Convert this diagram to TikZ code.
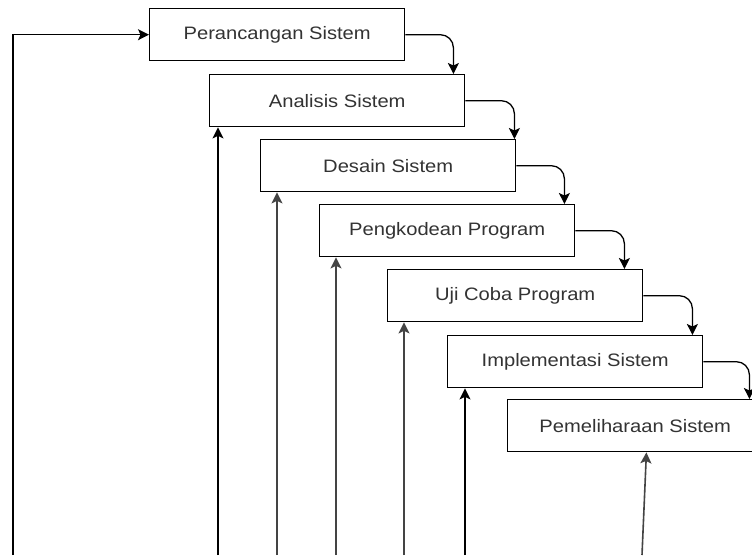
\documentclass[tikz,border=0pt]{standalone}
\usepackage{fontspec}
\setmainfont[FakeStretch=1.12]{Liberation Sans}
\usetikzlibrary{arrows.meta,calc}
\definecolor{txt}{HTML}{333333}
\definecolor{gline}{HTML}{444444}
\tikzset{
  stage/.style={draw=black, line width=1.4pt, fill=white, minimum width=255pt, minimum height=52pt,
    inner sep=0pt, anchor=north west, text=txt, font=\fontsize{18}{20}\selectfont},
  flow/.style={draw=black, line width=1.3pt, rounded corners=13pt,
    -{Stealth[length=11pt,width=11pt,inset=2.5pt]}},
  back/.style={draw=black, line width=1.4pt, -{Stealth[length=11pt,width=11pt,inset=2.5pt]}},
  backg/.style={back, draw=gline, line width=1.6pt}
}
\begin{document}
\begin{tikzpicture}[x=1pt,y=-1pt]
\clip (0,0) rectangle (752,555);
\fill[white] (0,0) rectangle (752,555);
\node[stage] (b1) at (149,8) {Perancangan Sistem};
\node[stage] (b2) at (209,74) {Analisis Sistem};
\node[stage] (b3) at (260,139) {Desain Sistem};
\node[stage] (b4) at (319,204) {Pengkodean Program};
\node[stage] (b5) at (387,269) {Uji Coba Program};
\node[stage] (b6) at (447,335) {Implementasi Sistem};
\node[stage] (b7) at (507,399) {Pemeliharaan Sistem};
% forward flow
\draw[flow] (b1.east) -| ([xshift=-12pt]b2.north east);
\draw[flow] (b2.east) -| ([xshift=-2pt]b3.north east);
\draw[flow] (b3.east) -| ([xshift=-11pt]b4.north east);
\draw[flow] (b4.east) -| ([xshift=-19pt]b5.north east);
\draw[flow] (b5.east) -| ([xshift=-11pt]b6.north east);
\draw[flow] (b6.east) -| ([xshift=-14pt]b7.north east);
% feedback lines
\coordinate (f0) at (13,555);
\coordinate (f2) at (218,555);
\coordinate (f3) at (277,555);
\coordinate (f4) at (336,555);
\coordinate (f5) at (404,555);
\coordinate (f6) at (465,555);
\coordinate (f7) at (642,555);
\draw[back] (f0) |- (b1.west);
\draw[back] (f2) -- (f2 |- b2.south);
\draw[backg] (f3) -- (f3 |- b3.south);
\draw[backg] (f4) -- (f4 |- b4.south);
\draw[backg] (f5) -- (f5 |- b5.south);
\draw[back] (f6) -- (f6 |- b6.south);
\draw[backg] (f7) -- ([xshift=-117pt]b7.south east);
\end{tikzpicture}
\end{document}
